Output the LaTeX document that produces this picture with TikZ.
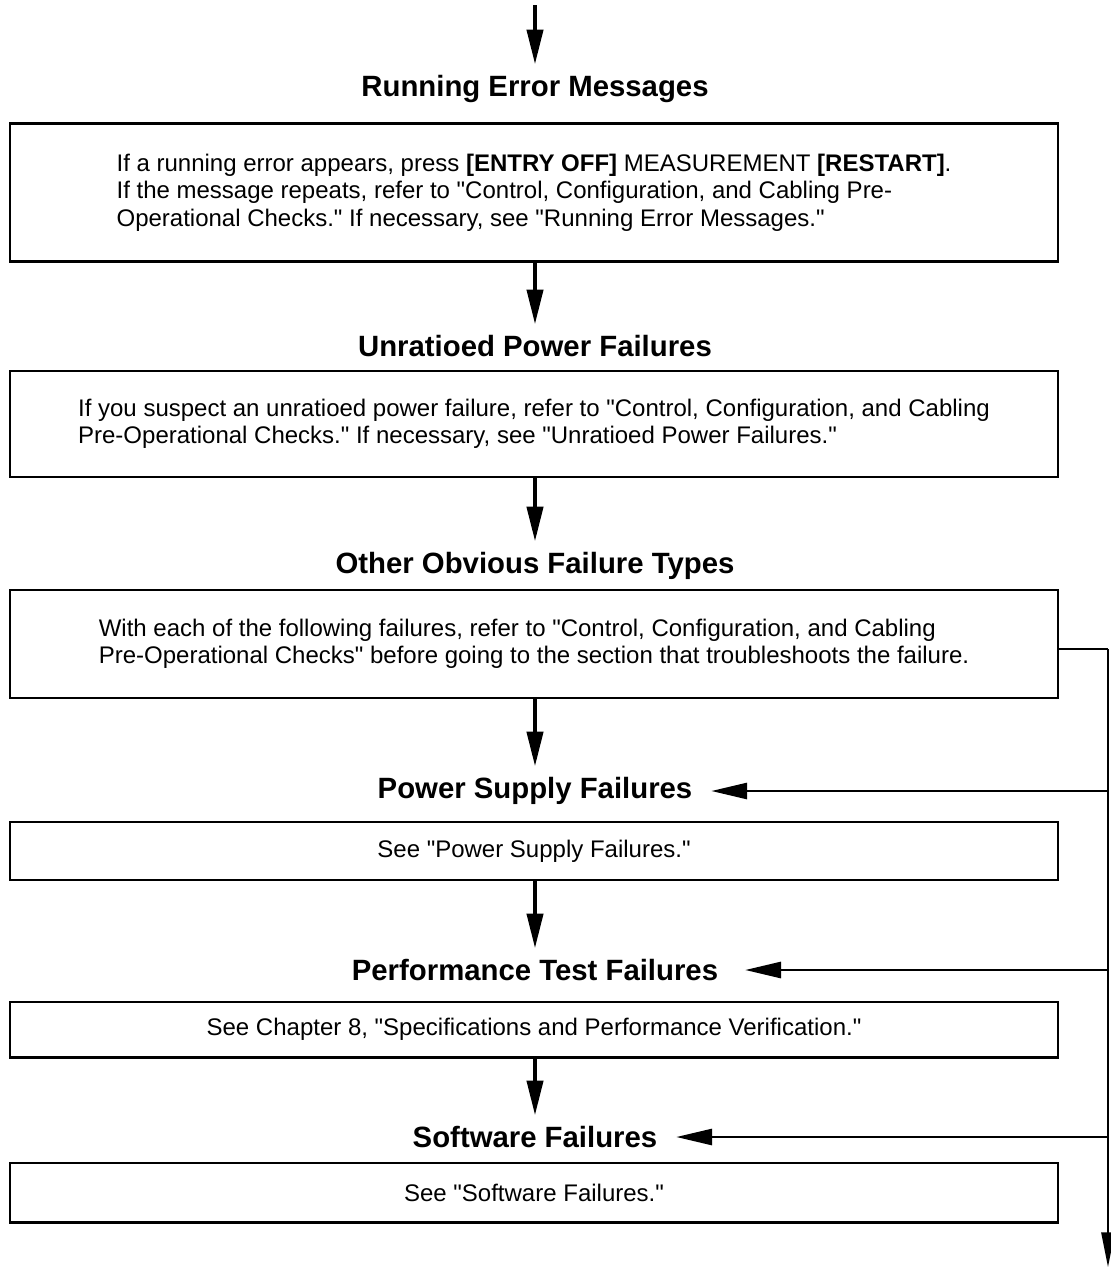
\documentclass[tikz,border=0pt]{standalone}
\usepackage{fontspec}
\setmainfont{Liberation Sans}[Ligatures=TeXOff]
\usetikzlibrary{arrows.meta}

\begin{document}
\begin{tikzpicture}[x=0.75pt,y=-0.75pt,
		title/.style={font=\fontsize{22}{26}\selectfont\bfseries, inner sep=0pt},
		box/.style={draw, line width=2.2pt, minimum width=786pt, inner sep=0pt, align=left, font=\fontsize{18}{20.6}\selectfont},
		darr/.style={line width=3pt, -{Triangle[length=26pt,width=12pt]}},
		larr/.style={line width=2.2pt, -{Triangle[length=27pt,width=12pt]}}]
			\useasboundingbox (0,0) rectangle (1110,1267);

			\coordinate (start) at (535,5);
			\node[title] (t1) at (535,89) {Running Error Messages};
			\node[box, minimum height=104pt] (b1) at (534,192.5) {If a running error appears, press \textbf{[ENTRY OFF]} MEASUREMENT \textbf{[RESTART]}.\\If the message repeats, refer to "Control, Configuration, and Cabling Pre-\\Operational Checks." If necessary, see "Running Error Messages."};

			\node[title] (t2) at (535,346) {Unratioed Power Failures};
			\node[box, minimum height=79.5pt] (b2) at (534,424) {If you suspect an unratioed power failure, refer to "Control, Configuration, and Cabling\\Pre-Operational Checks." If necessary, see "Unratioed Power Failures."};

			\node[title] (t3) at (535,566) {Other Obvious Failure Types};
			\node[box, minimum height=81pt] (b3) at (534,644) {With each of the following failures, refer to "Control, Configuration, and Cabling\\Pre-Operational Checks" before going to the section that troubleshoots the failure.};

			\node[title] (t4) at (535,791) {Power Supply Failures};
			\node[box, minimum height=43.5pt] (b4) at (534,851) {See "Power Supply Failures."};

			\node[title] (t5) at (535,970) {Performance Test Failures};
			\node[box, minimum height=41.3pt] (b5) at (534,1029.5) {See Chapter 8, "Specifications and Performance Verification."};

			\node[title] (t6) at (535,1137) {Software Failures};
			\node[box, minimum height=44.3pt] (b6) at (534,1192.5) {See "Software Failures."};

			% main flow
			\draw[darr] (start) -- ([yshift=8pt]t1.north);
			\draw[darr] (b1.south -| t1) -- ([yshift=8pt]t2.north);
			\draw[darr] (b2.south -| t2) -- ([yshift=8pt]t3.north);
			\draw[darr] (b3.south -| t3) -- ([yshift=8pt]t4.north);
			\draw[darr] (b4.south -| t4) -- ([yshift=8pt]t5.north);
			\draw[darr] (b5.south -| t5) -- ([yshift=8pt]t6.north);

			% bypass on the right
			\coordinate (jn) at (1108,649);
			\coordinate (stop) at (1108,1267);
			\draw[line width=2.2pt] (b3.east |- jn) -- (jn);
			\draw[line width=1.2pt, -{Triangle[length=26pt,width=10pt]}] (jn) -- (stop);
			\draw[larr] (jn |- t4) -- ([xshift=14pt]t4.east);
			\draw[larr] (jn |- t5) -- ([xshift=20pt]t5.east);
			\draw[larr] (jn |- t6) -- ([xshift=14pt]t6.east);
		\end{tikzpicture}
\end{document}
